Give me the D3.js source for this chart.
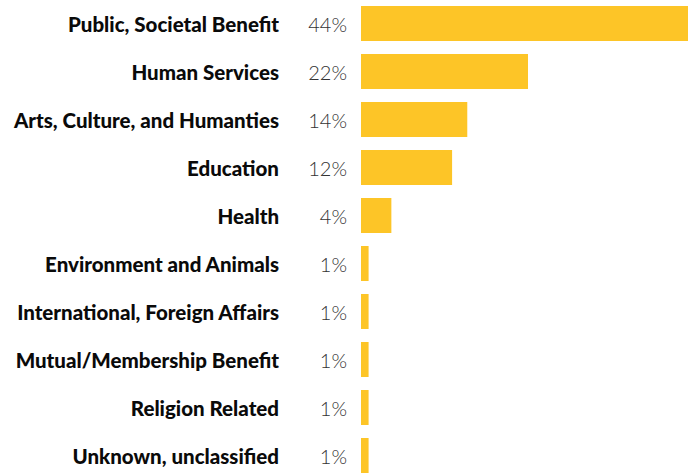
<!DOCTYPE html>
<html><head><meta charset="utf-8">
<script src="https://cdn.jsdelivr.net/npm/d3@7"></script>
<style>html,body{margin:0;padding:0;background:#fff;overflow:hidden}</style>
</head><body>
<svg id="chart" width="688" height="473"></svg>
<script>
const categories = ["Public, Societal Benefit","Human Services","Arts, Culture, and Humanties","Education","Health","Environment and Animals","International, Foreign Affairs","Mutual/Membership Benefit","Religion Related","Unknown, unclassified"];
const values = [44,22,14,12,4,1,1,1,1,1];
const valueLabels = ["44%","22%","14%","12%","4%","1%","1%","1%","1%","1%"];

const svg = d3.select("#chart");
const barX0 = 361;
const x = d3.scaleLinear().domain([0,22]).range([barX0, 528]);
const y = d3.scaleBand().domain(categories).range([-0.5, 479.5]).paddingInner(13/48).paddingOuter(6.5/48);

svg.selectAll("rect.bar").data(categories).join("rect")
  .attr("class","bar")
  .attr("x", x(0))
  .attr("y", d => y(d))
  .attr("width", (d,i) => x(values[i]) - x(0))
  .attr("height", y.bandwidth())
  .attr("fill", "#FDC527");

svg.selectAll("text.cat").data(categories).join("text")
  .attr("class","cat")
  .attr("x", 279)
  .attr("y", d => y(d) + y.bandwidth()/2)
  .attr("text-anchor","end")
  .attr("dominant-baseline","central")
  .attr("font-family","Lato")
  .attr("font-weight","900")
  .attr("font-size","20.5px")
  .attr("fill","#0a0a0a")
  .text(d => d);

svg.selectAll("text.val").data(categories).join("text")
  .attr("class","val")
  .attr("x", 347)
  .attr("y", d => y(d) + y.bandwidth()/2)
  .attr("text-anchor","end")
  .attr("dominant-baseline","central")
  .attr("font-family","Lato")
  .attr("font-weight","300")
  .attr("font-size","20px")
  .attr("fill","#333")
  .text((d,i) => valueLabels[i]);
</script>
</body></html>
